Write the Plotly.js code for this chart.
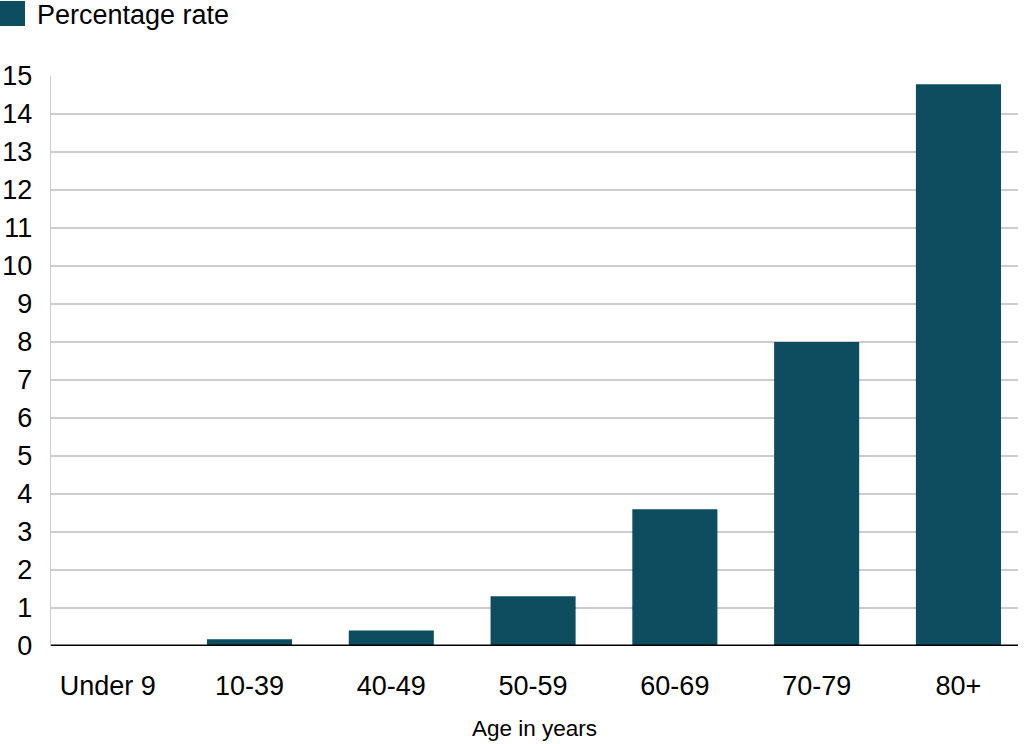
<!DOCTYPE html>
<html>
<head>
<meta charset="utf-8">
<script src="https://cdn.plot.ly/plotly-3.0.1.min.js"></script>
<style>html,body{margin:0;padding:0;background:#fff;}#chart{width:1024px;height:744px;}</style>
</head>
<body>
<div id="chart"></div>
<script>
const categories = ["Under 9", "10-39", "40-49", "50-59", "60-69", "70-79", "80+"];
const seriesName = "Percentage rate";
const values = [0, 0.18, 0.41, 1.31, 3.6, 8.0, 14.78];
const yTicks = [0,1,2,3,4,5,6,7,8,9,10,11,12,13,14,15];
const xTitle = "Age in years";

const barColor = "#0d4d5f";
const W = 1024, H = 744;
const m = {l: 51, r: 6, t: 76, b: 98};
const pw = W - m.l - m.r, ph = H - m.t - m.b;
const px = v => (v - m.l) / pw;
const py = v => (H - m.b - v) / ph;

const font = "Liberation Sans, Arial, Helvetica, sans-serif";

Plotly.newPlot("chart", [{
  type: "bar",
  x: categories.map((c, i) => i),
  y: values,
  name: seriesName,
  width: 0.6,
  marker: {color: barColor, line: {width: 0}},
  showlegend: false,
  hoverinfo: "x+y"
}], {
  width: W, height: H,
  margin: m,
  paper_bgcolor: "#fff", plot_bgcolor: "#fff",
  font: {family: font, color: "#000", size: 27},
  xaxis: {
    range: [-0.4, 6.42],
    tickmode: "array",
    tickvals: categories.map((c, i) => i),
    ticktext: categories,
    ticks: "",
    showgrid: false,
    zeroline: false,
    showline: false,
    ticklabelstandoff: 21,
    tickfont: {size: 27},
    title: {text: xTitle, font: {size: 22.5}, standoff: 20}
  },
  yaxis: {
    range: [0, 15],
    tickmode: "array",
    tickvals: yTicks,
    ticks: "",
    showgrid: true,
    gridcolor: "#cccccc",
    gridwidth: 1.3,
    zeroline: false,
    showline: true,
    linecolor: "#cccccc",
    linewidth: 1.3,
    ticklabelstandoff: 12,
    tickfont: {size: 27}
  },
  shapes: [
    {type: "line", xref: "paper", yref: "y", x0: 0, x1: 1, y0: 0, y1: 0,
     line: {color: "#000", width: 3}, layer: "above"},
    {type: "rect", xref: "paper", yref: "paper",
     x0: px(0), x1: px(25), y0: py(26), y1: py(1),
     fillcolor: barColor, line: {width: 0}}
  ],
  annotations: [
    {xref: "paper", yref: "paper", x: px(35), y: py(15), xanchor: "left", yanchor: "middle",
     text: seriesName, showarrow: false, font: {size: 27, color: "#000"}}
  ]
}, {displayModeBar: false, staticPlot: true});
</script>
</body>
</html>
